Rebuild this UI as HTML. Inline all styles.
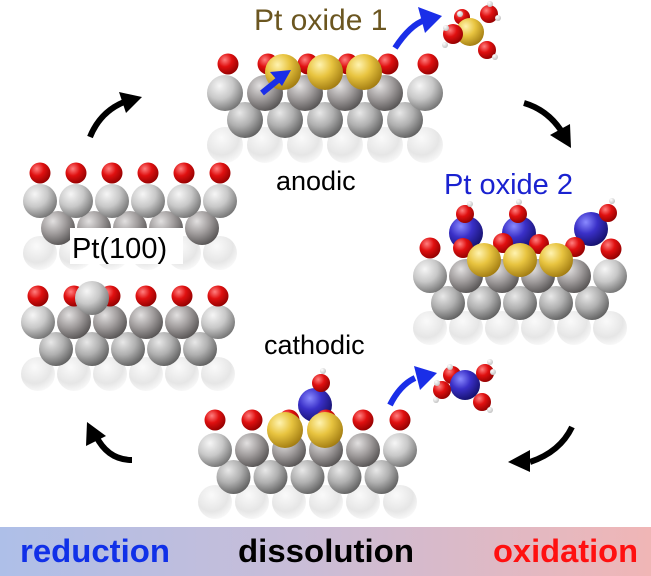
<!DOCTYPE html>
<html><head><meta charset="utf-8"><style>
html,body{margin:0;padding:0;background:#fff;width:651px;height:576px;overflow:hidden}
svg{display:block}
text{font-family:"Liberation Sans",Arial,sans-serif}
</style></head><body>
<svg id="s" width="651" height="576" viewBox="0 0 651 576" xmlns="http://www.w3.org/2000/svg">
<defs>
<radialGradient id="gG" cx="0.35" cy="0.3" r="0.75"><stop offset="0" stop-color="#f6f6f6"/><stop offset="0.5" stop-color="#c8c8c8"/><stop offset="1" stop-color="#727272"/></radialGradient>
<radialGradient id="gD" cx="0.35" cy="0.3" r="0.75"><stop offset="0" stop-color="#e2e0e0"/><stop offset="0.5" stop-color="#a09c9c"/><stop offset="1" stop-color="#555252"/></radialGradient>
<radialGradient id="gM" cx="0.35" cy="0.3" r="0.75"><stop offset="0" stop-color="#e8e8e8"/><stop offset="0.5" stop-color="#b0b0b0"/><stop offset="1" stop-color="#5e5e5e"/></radialGradient>
<radialGradient id="gF" cx="0.4" cy="0.3" r="0.8"><stop offset="0" stop-color="#fafafa"/><stop offset="0.6" stop-color="#e6e6e6"/><stop offset="1" stop-color="#ffffff"/></radialGradient>
<radialGradient id="gR" cx="0.35" cy="0.3" r="0.75"><stop offset="0" stop-color="#ff8080"/><stop offset="0.45" stop-color="#e01010"/><stop offset="1" stop-color="#900000"/></radialGradient>
<radialGradient id="gY" cx="0.35" cy="0.3" r="0.75"><stop offset="0" stop-color="#fff3b0"/><stop offset="0.45" stop-color="#e8c440"/><stop offset="1" stop-color="#a07a10"/></radialGradient>
<radialGradient id="gB" cx="0.35" cy="0.3" r="0.75"><stop offset="0" stop-color="#8a8aff"/><stop offset="0.45" stop-color="#3a30c8"/><stop offset="1" stop-color="#14106a"/></radialGradient>
<radialGradient id="gH" cx="0.35" cy="0.3" r="0.8"><stop offset="0" stop-color="#fff"/><stop offset="1" stop-color="#bbb"/></radialGradient>
<linearGradient id="bar" x1="0" x2="1"><stop offset="0" stop-color="#aebfe8"/><stop offset="0.45" stop-color="#c8bdd8"/><stop offset="1" stop-color="#f0b6b6"/></linearGradient>
</defs>
<g id="atoms"></g>
<g fill="none" stroke="#000" stroke-width="6">
<path d="M90 137 Q100 112 124 102"/>
<path d="M524 103 Q548 110 562 132"/>
<path d="M572 427 Q560 452 530 462"/>
<path d="M132 460 Q108 460 96 436"/>
</g>
<g fill="#000">
<polygon points="142,97 119,92 126,113"/>
<polygon points="571,148 550,135 570,124"/>
<polygon points="508,462 530,450 530,472"/>
<polygon points="87,422 86,446 106,436"/>
</g>
<g fill="none" stroke="#1a2ee8" stroke-width="6">
<path d="M395 48 Q410 25 425 20"/>
<path d="M390 405 Q400 385 415 378"/>
<path d="M262 93 L278 80"/>
</g>
<g fill="#1a2ee8">
<polygon points="442,16 418,7 425,33"/>
<polygon points="437,373 414,366 420,390"/>
<polygon points="291,70 270,72 282,86"/>
</g>
<text x="254" y="30" font-size="30" fill="#6b5620">Pt oxide 1</text>
<text x="276" y="190" font-size="27" fill="#000">anodic</text>
<text x="444" y="194" font-size="29" fill="#1a22d0">Pt oxide 2</text>
<text x="264" y="354" font-size="27" fill="#000">cathodic</text>
<rect x="70" y="228" width="113" height="36" fill="#fff"/>
<text x="72" y="258" font-size="29" fill="#000">Pt(100)</text>
<rect x="0" y="527" width="651" height="49" fill="url(#bar)"/>
<text x="20" y="562" font-size="32" font-weight="bold" fill="#1030e8" textLength="150" lengthAdjust="spacingAndGlyphs">reduction</text>
<text x="238" y="562" font-size="32" font-weight="bold" fill="#000" textLength="176" lengthAdjust="spacingAndGlyphs">dissolution</text>
<text x="493" y="562" font-size="32" font-weight="bold" fill="#ff1010" textLength="145" lengthAdjust="spacingAndGlyphs">oxidation</text>
</svg>
<script>
var g=document.getElementById('atoms'),NS='http://www.w3.org/2000/svg';
function c(x,y,r,f){var e=document.createElementNS(NS,'circle');e.setAttribute('cx',x);e.setAttribute('cy',y);e.setAttribute('r',r);e.setAttribute('fill','url(#'+f+')');g.appendChild(e);}
function slab(x0,dx,y1,r,dark,mid){
 for(var i=0;i<6;i++)c(x0+i*dx,y1+52,r,'gF');
 for(var i=0;i<5;i++)c(x0+dx/2+i*dx,y1+27,r,mid||'gM');
 for(var i=0;i<6;i++)c(x0+i*dx,y1,r,(dark&&i>0&&i<5)?'gD':'gG');
}
for(var i=0;i<6;i++)c(40+i*36,173,10.5,'gR');
slab(40,36,201,17,false,'gD');
slab(38,36,322,17,true);
for(var i=0;i<6;i++)c(38+i*36,296,10.5,'gR');
c(92,298,17,'gG');
for(var i=0;i<6;i++)c(228+i*40,64,10.5,'gR');
slab(225,40,93,18,true);
c(283,72,18,'gY');c(325,72,18,'gY');c(364,72,18,'gY');
c(462,17,8,'gR');c(470,32,14,'gY');c(453,34,10,'gR');c(489,14,9,'gR');c(487,50,9,'gR');
c(445,45,3,'gH');c(498,18,3,'gH');c(495,57,3,'gH');c(490,4,3,'gH');c(460,14,3,'gH');c(446,28,3,'gH');
slab(430,36,276,17,true);
c(430,248,10.5,'gR');c(611,249,10.5,'gR');
c(466,233,17,'gB');c(519,233,17,'gB');c(591,229,17,'gB');
c(465,214,9,'gR');c(518,214,9,'gR');c(608,213,9,'gR');
c(470,204,3,'gH');c(519,202,3,'gH');c(612,201,3,'gH');
c(463,248,10,'gR');c(503,243,10,'gR');c(539,244,10,'gR');c(575,247,10,'gR');
c(484,260,17,'gY');c(520,260,17,'gY');c(556,260,17,'gY');
slab(215,37,450,17,true);
c(315,405,17,'gB');
c(321,383,9,'gR');c(323,371,3,'gH');
for(var i=0;i<6;i++)c(215+i*37,420,10.5,'gR');
c(285,430,18,'gY');c(325,430,18,'gY');
c(452,375,9,'gR');c(465,385,15,'gB');c(485,373,9,'gR');c(482,402,9,'gR');c(442,390,9,'gR');
c(493,372,3,'gH');c(490,410,3,'gH');c(436,400,3,'gH');c(437,383,3,'gH');c(450,367,3,'gH');c(490,362,3,'gH');
</script>
</body></html>
